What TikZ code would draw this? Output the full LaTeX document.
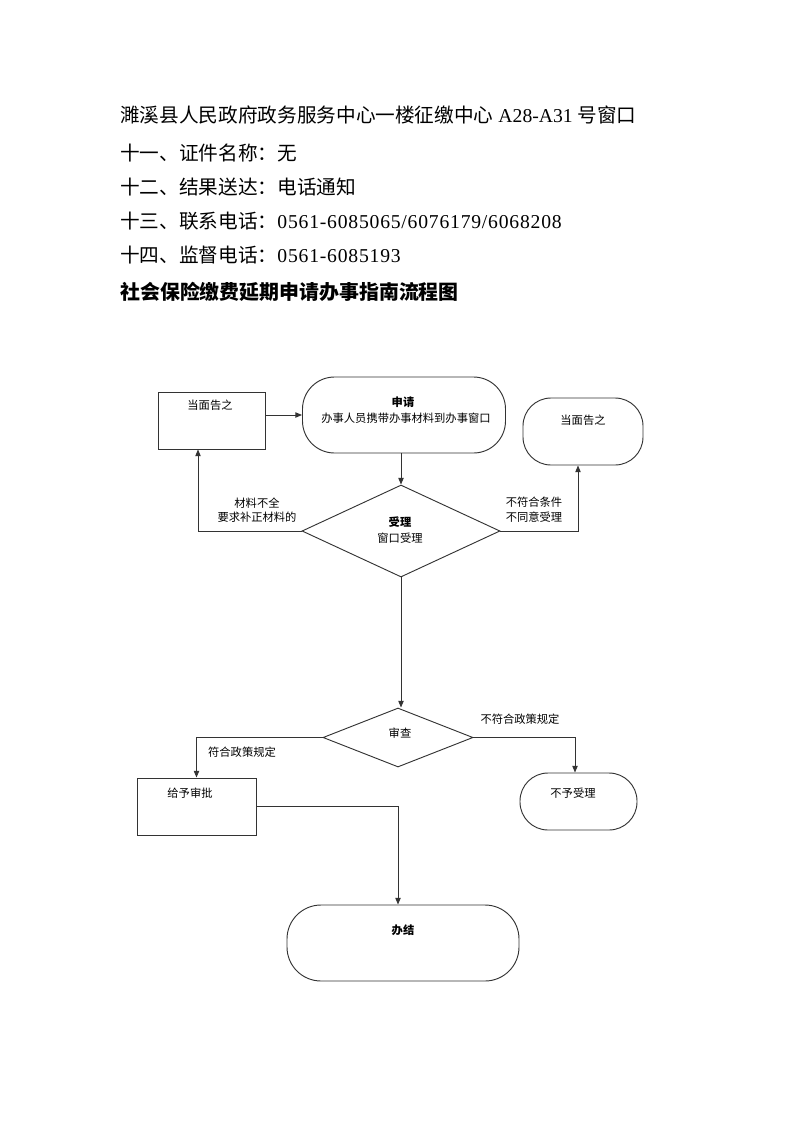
\documentclass[tikz,border=0pt]{standalone}
\usepackage{fontspec}
\setmainfont{Liberation Serif}
\newfontfamily\cjk{Noto Sans CJK SC}
\newfontfamily\digits[LetterSpace=4]{Liberation Serif}
\usetikzlibrary{arrows.meta,positioning,shapes.geometric}
\newlength\pu
\setlength\pu{0.02648cm}
\tikzset{
  headline/.style={anchor=west, inner sep=0pt, font=\fontsize{14.8}{17}\selectfont},
  box/.style={draw=black!80, line width=0.7pt, inner sep=0pt},
  roundbox/.style={box, rounded corners=28\pu},
  decision/.style={box, diamond},
  small/.style={font=\cjk\fontsize{8.5}{11}\selectfont, inner sep=0pt, align=center},
  flow/.style={draw=black!80, line width=0.7pt, -{Triangle[length=5pt,width=4pt]}},
}
\begin{document}
\begin{tikzpicture}[x=1\pu, y=-1\pu]
\useasboundingbox (0,0) rectangle (793,1122);

% text above the chart
\node[headline] (l1) at (120,115) {{\cjk 濉溪县人民政府政务服务中心一楼征缴中心} A28-A31 {\cjk 号窗口}};
\node[headline] (l2) at (120,153) {{\cjk 十一、证件名称：无}};
\node[headline] (l3) at (120,187) {{\cjk 十二、结果送达：电话通知}};
\node[headline] (l4) at (120,221) {{\cjk 十三、联系电话：}{\digits 0561-6085065/6076179/6068208}};
\node[headline] (l5) at (120,255) {{\cjk 十四、监督电话：}{\digits 0561-6085193}};
\node[headline, font=\cjk\bfseries\fontsize{15}{17}\selectfont] (title) at (120,292) {社会保险缴费延期申请办事指南流程图};

% shapes
\node[box, minimum width=107\pu, minimum height=57\pu] (tell1) at (211.5,420.5) {};
\node[roundbox, minimum width=203\pu, minimum height=76\pu, rounded corners=32\pu] (apply) at (404,415) {};
\node[roundbox, minimum width=120\pu, minimum height=67\pu] (tell2) at (583,431.5) {};
\node[decision, minimum width=198\pu, minimum height=92\pu] (accept) at (401,531) {};
\node[decision, minimum width=150\pu, minimum height=59\pu] (review) at (398,737.5) {};
\node[box, minimum width=119\pu, minimum height=57\pu] (grant) at (196.5,806.5) {};
\node[roundbox, minimum width=117\pu, minimum height=57\pu] (reject) at (578.5,801.5) {};
\node[roundbox, minimum width=232\pu, minimum height=76\pu, rounded corners=34\pu] (done) at (403,943) {};

% texts in the shapes
\node[small] (tell1txt) at (210,405) {当面告之};
\node[small, font=\cjk\bfseries\fontsize{8.5}{11}\selectfont] (applytitle) at (403,402) {申请};
\node[small] (applytxt) at (406,418) {办事人员携带办事材料到办事窗口};
\node[small] (tell2txt) at (583,420) {当面告之};
\node[small, font=\cjk\bfseries\fontsize{8.5}{11}\selectfont] (accepttitle) at (400,522) {受理};
\node[small] (accepttxt) at (400,538) {窗口受理};
\node[small] (reviewtxt) at (400,733) {审查};
\node[small] (granttxt) at (190,793) {给予审批};
\node[small] (rejecttxt) at (573,793) {不予受理};
\node[small, font=\cjk\bfseries\fontsize{8.5}{11}\selectfont] (donetxt) at (403,930) {办结};

% labels on the connectors
\node[small] (lackl) at (257,510) {材料不全\\要求补正材料的};
\node[small] (refusel) at (534,510) {不符合条件\\不同意受理};
\node[small] (okl) at (242,752) {符合政策规定};
\node[small] (notokl) at (520,719) {不符合政策规定};

% connectors
\draw[flow] (tell1.east |- apply.west) -- (apply.west);
\draw[flow] (apply.south -| accept.north) -- (accept.north);
\draw[flow] (accept.west) -| ([xshift=-13.5\pu]tell1.south);
\draw[flow] (accept.east) -| ([xshift=-5\pu]tell2.south);
\draw[flow] (accept.south) -- (review.north -| accept.south);
\draw[flow] (review.west) -| (grant.north);
\draw[flow] (review.east) -| ([xshift=-3.5\pu]reject.north);
\draw[flow] (grant.east) -| ([xshift=-5\pu]done.north);
\end{tikzpicture}
\end{document}
